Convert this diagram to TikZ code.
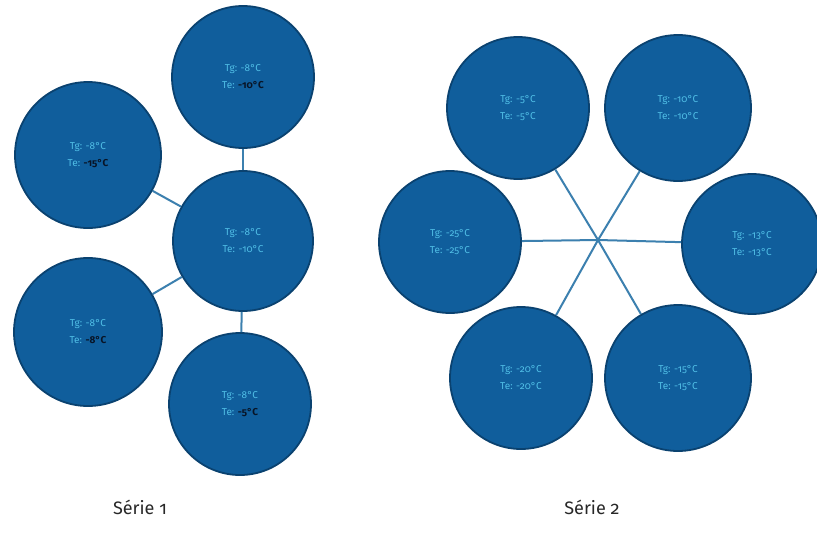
\documentclass[tikz,border=0pt]{standalone}
\usepackage{fontspec}
\setmainfont{Fira Sans}[Numbers=OldStyle]
\definecolor{cfill}{RGB}{16,94,156}
\definecolor{cborder}{RGB}{10,66,112}
\definecolor{ctext}{RGB}{80,190,230}
\definecolor{cline}{RGB}{60,128,175}
\definecolor{cblot}{RGB}{8,20,38}
\definecolor{ccap}{RGB}{40,40,40}
\begin{document}
\begin{tikzpicture}[x=1pt,y=-1pt,
  bubble/.style={circle,fill=cfill,draw=cborder,line width=1.8pt,minimum size=#1,inner sep=0pt,
    text=ctext,font=\fontsize{10}{17}\selectfont,align=center},
  bubble/.default=140pt,
  link/.style={draw=cline,line width=2pt},
  captext/.style={text=ccap,font=\fontsize{18}{20}\selectfont}]
\useasboundingbox[fill=white] (0,0) rectangle (817,533);
% Serie 1
\node[bubble=142pt] (s1t) at (243,77) {Tg: -8°C\\Te: \textcolor{cblot}{\textbf{-10°C}}};
\node[bubble=146pt] (s1lt) at (88,155) {Tg: -8°C\\Te: \textcolor{cblot}{\textbf{-15°C}}};
\node[bubble=140pt] (s1c) at (243,241) {Tg: -8°C\\Te: -10°C};
\node[bubble=148pt] (s1lb) at (88,332) {Tg: -8°C\\Te: \textcolor{cblot}{\textbf{-8°C}}};
\node[bubble=142pt] (s1b) at (240,404) {Tg: -8°C\\Te: \textcolor{cblot}{\textbf{-5°C}}};
% Serie 2
\coordinate (hub) at (598,240);
\node[bubble=142pt] (s2tl) at (518,108) {Tg: -5°C\\Te: -5°C};
\node[bubble=146pt] (s2tr) at (678,108) {Tg: -10°C\\Te: -10°C};
\node[bubble=142pt] (s2l) at (450,242) {Tg: -25°C\\Te: -25°C};
\node[bubble=140pt] (s2r) at (752,244) {Tg: -13°C\\Te: -13°C};
\node[bubble=142pt] (s2bl) at (521,378) {Tg: -20°C\\Te: -20°C};
\node[bubble=146pt] (s2br) at (678,378) {Tg: -15°C\\Te: -15°C};
% connectors
\draw[link] (s1t) -- (s1c);
\draw[link] (s1c) -- (s1b);
\draw[link] (s1c) -- (s1lt);
\draw[link] (s1c) -- (s1lb);
\foreach \n in {s2tl,s2tr,s2l,s2r,s2bl,s2br} \draw[link] (hub) -- (\n);
% captions
\node[captext] (c1) at (140,507) {Série 1};
\node[captext] (c2) at (592,507) {Série 2};
\end{tikzpicture}
\end{document}
